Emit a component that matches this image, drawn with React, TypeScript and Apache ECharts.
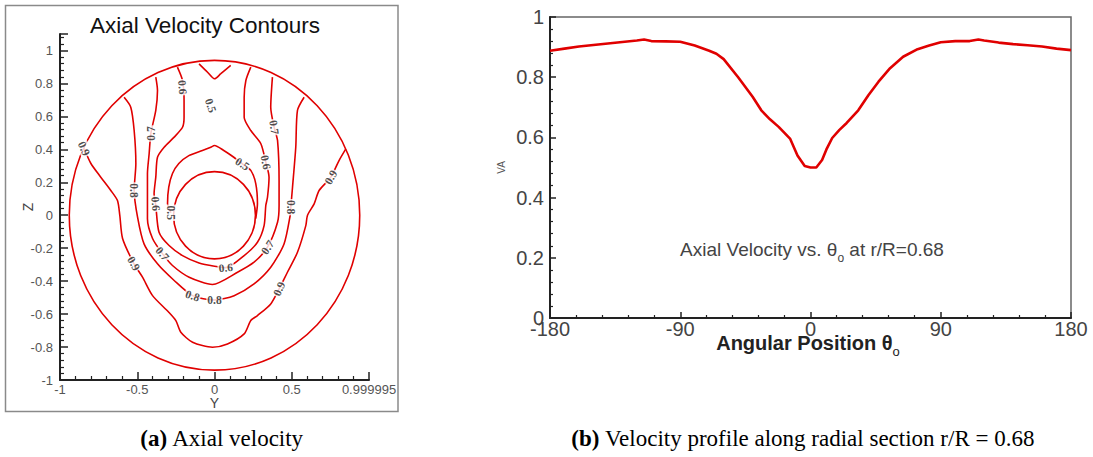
import React, { useEffect, useRef } from "react";
import * as echarts from "echarts";

// ---------- Right panel data: axial velocity vs angular position ----------
const thetaDeg = [-180, -170, -160, -150, -140, -130, -120, -115, -110, -100, -90, -80, -70, -65, -60, -50, -40, -34, -28, -22, -14, -9, -4, 0, 4, 8, 11, 15, 20, 25, 33, 40, 47, 55, 64, 74, 82, 90, 100, 110, 116, 120, 130, 140, 150, 160, 170, 180];
const axialVel = [0.888, 0.895, 0.902, 0.907, 0.912, 0.917, 0.922, 0.925, 0.92, 0.919, 0.918, 0.905, 0.888, 0.878, 0.86, 0.8, 0.735, 0.69, 0.66, 0.635, 0.595, 0.54, 0.505, 0.5, 0.5, 0.525, 0.56, 0.598, 0.625, 0.648, 0.69, 0.74, 0.785, 0.83, 0.868, 0.893, 0.905, 0.916, 0.92, 0.92, 0.925, 0.922, 0.915, 0.91, 0.906, 0.902, 0.895, 0.89];

// ---------- Left panel data: contour lines [Y, Z] ----------
const contour09 = [[-0.844, 0.405], [-0.8, 0.314], [-0.736, 0.231], [-0.671, 0.15], [-0.628, 0.089], [-0.613, 0], [-0.595, -0.141], [-0.522, -0.293], [-0.466, -0.376], [-0.401, -0.488], [-0.296, -0.589], [-0.25, -0.64], [-0.218, -0.71], [-0.142, -0.771], [-0.013, -0.801], [0.084, -0.781], [0.192, -0.72], [0.235, -0.639], [0.278, -0.609], [0.364, -0.538], [0.418, -0.447], [0.472, -0.346], [0.537, -0.225], [0.591, -0.063], [0.602, 0], [0.645, 0.069], [0.677, 0.15], [0.753, 0.231], [0.806, 0.332], [0.85, 0.403]];
const contour08 = [[-0.585, 0.716], [-0.542, 0.656], [-0.52, 0.514], [-0.509, 0.314], [-0.52, 0.15], [-0.498, -0.012], [-0.456, -0.174], [-0.369, -0.295], [-0.261, -0.396], [-0.142, -0.488], [0, -0.514], [0.127, -0.488], [0.256, -0.417], [0.364, -0.316], [0.45, -0.174], [0.49, 0.0], [0.494, 0.049], [0.505, 0.17], [0.526, 0.413], [0.537, 0.636], [0.58, 0.716]];
const contour07 = [[-0.38, 0.838], [-0.369, 0.757], [-0.38, 0.636], [-0.412, 0.496], [-0.423, 0.373], [-0.434, 0.253], [-0.434, 0.132], [-0.434, -0.022], [-0.401, -0.141], [-0.337, -0.233], [-0.272, -0.305], [-0.164, -0.376], [-0.013, -0.42], [0.149, -0.346], [0.256, -0.285], [0.343, -0.194], [0.408, -0.043], [0.418, 0.059], [0.418, 0.211], [0.408, 0.454], [0.386, 0.534], [0.364, 0.656], [0.375, 0.838]];
const contour06 = [[-0.24, 0.899], [-0.207, 0.818], [-0.197, 0.696], [-0.197, 0.595], [-0.207, 0.534], [-0.261, 0.474], [-0.326, 0.413], [-0.369, 0.352], [-0.38, 0.231], [-0.391, 0.13], [-0.38, 0.059], [-0.359, -0.103], [-0.294, -0.184], [-0.207, -0.245], [-0.1, -0.29], [0, -0.31], [0.073, -0.318], [0.192, -0.245], [0.278, -0.164], [0.321, -0.063], [0.332, 0.059], [0.343, 0.109], [0.353, 0.231], [0.332, 0.322], [0.3, 0.434], [0.235, 0.514], [0.192, 0.595], [0.192, 0.716], [0.203, 0.818], [0.235, 0.899]];
const contour05 = [[-0.282, 0.015], [-0.304, 0.071], [-0.296, 0.17], [-0.272, 0.253], [-0.231, 0.314], [-0.166, 0.362], [-0.078, 0.393], [-0.024, 0.413], [0, 0.423], [0.06, 0.393], [0.125, 0.352], [0.181, 0.312], [0.235, 0.272], [0.267, 0.192], [0.278, 0.071], [0.267, -0.02]];
const contour05top = [[-0.1, 0.919], [-0.045, 0.868], [0, 0.828], [0.041, 0.859], [0.105, 0.909]];
// walls: [centre Y, centre Z, radius]
const walls = [[0, 0, 0.94], [0, 0, 0.265]];

const labelText = ["0.9", "0.8", "0.7", "0.6", "0.5", "0.5", "0.7", "0.6", "0.9", "0.8", "0.6", "0.5", "0.9", "0.7", "0.8", "0.8", "0.6", "0.7", "0.9"];
const labelPos = [[-0.844, 0.405], [-0.52, 0.15], [-0.412, 0.496], [-0.207, 0.777], [-0.024, 0.666], [0.181, 0.312], [0.386, 0.534], [0.332, 0.322], [0.753, 0.231], [0.494, 0.049], [-0.38, 0.07], [-0.282, 0.015], [-0.522, -0.293], [-0.337, -0.233], [-0.142, -0.488], [0, -0.514], [0.073, -0.318], [0.343, -0.194], [0.418, -0.447]];
const labelAngle = [-65, -90, 90, -85, -72, -32, -82, -78, 60, -90, -85, -90, -60, -50, -18, 0, 5, 55, 65];

const RED = "#e00000";
const SANS = "'Liberation Sans', Arial, sans-serif";
const SERIF = "'Liberation Serif', 'Times New Roman', serif";

export default function App() {
  const ref = useRef<HTMLDivElement>(null);
  useEffect(() => {
    if (!ref.current) return;
    const chart = echarts.init(ref.current, undefined, { renderer: "svg" });

    const contourSeries = [contour09, contour08, contour07, contour06, contour05, contour05top].map((d) => ({
      type: "line",
      xAxisIndex: 0,
      yAxisIndex: 0,
      data: d,
      showSymbol: false,
      smooth: 0.25,
      lineStyle: { color: RED, width: 1.6 },
      z: 2,
    }));

    const axisCommon = {
      axisLine: { onZero: false, lineStyle: { color: "#222", width: 2 } },
      splitLine: { show: false },
    };

    const option: any = {
      animation: false,
      backgroundColor: "#ffffff",
      grid: [
        { left: 60, top: 34, width: 309, height: 346 },
        { left: 550, top: 17, width: 521, height: 301, show: true, borderColor: "#666", borderWidth: 1.5, backgroundColor: "transparent" },
      ],
      xAxis: [
        {
          type: "value", gridIndex: 0, min: -1, max: 1, interval: 0.5, ...axisCommon,
          axisTick: { inside: true, length: 8, lineStyle: { color: "#222", width: 1.5 } },
          minorTick: { show: true, splitNumber: 5, length: 4, lineStyle: { color: "#222", width: 1.2 } },
          axisLabel: { color: "#555", fontSize: 13, fontFamily: SANS, margin: 3, formatter: (v: number) => (v === 1 ? "0.999995" : String(v)) },
          name: "Y", nameLocation: "middle", nameGap: 16, nameMoveOverlap: false,
          nameTextStyle: { color: "#444", fontSize: 14, fontFamily: SANS },
        },
        {
          type: "value", gridIndex: 1, min: -180, max: 180, interval: 90, ...axisCommon,
          axisTick: { inside: true, length: 6, lineStyle: { color: "#222", width: 1.5 } },
          minorTick: { show: true, splitNumber: 5, length: 3, lineStyle: { color: "#222", width: 1.2 } },
          axisLabel: { color: "#444", fontSize: 20, fontFamily: SANS, margin: 1 },
        },
      ],
      yAxis: [
        {
          type: "value", gridIndex: 0, min: -1, max: 1.1, interval: 0.2, ...axisCommon,
          axisTick: { inside: true, length: 8, lineStyle: { color: "#222", width: 1.5 } },
          minorTick: { show: true, splitNumber: 5, length: 4, lineStyle: { color: "#222", width: 1.2 } },
          axisLabel: { color: "#555", fontSize: 13, fontFamily: SANS, margin: 7, showMaxLabel: false, formatter: (v: number) => (v > 1.05 ? "" : String(Math.round(v * 10) / 10)) },
          name: "Z", nameLocation: "middle", nameGap: 25, nameRotate: 90, nameMoveOverlap: false,
          nameTextStyle: { color: "#444", fontSize: 14, fontFamily: SANS },
        },
        {
          type: "value", gridIndex: 1, min: 0, max: 1, interval: 0.2, ...axisCommon,
          axisTick: { inside: true, length: 6, lineStyle: { color: "#222", width: 1.5 } },
          minorTick: { show: true, splitNumber: 5, length: 3, lineStyle: { color: "#222", width: 1.2 } },
          axisLabel: { color: "#444", fontSize: 20, fontFamily: SANS, margin: 6 },
          name: "VA", nameLocation: "middle", nameGap: 44, nameRotate: 90,
          nameTextStyle: { color: "#555", fontSize: 10, fontFamily: SANS },
        },
      ],
      series: [
        {
          type: "custom",
          xAxisIndex: 0,
          yAxisIndex: 0,
          data: walls,
          clip: false,
          z: 2,
          renderItem: (_p: any, api: any) => {
            const c = api.coord([api.value(0), api.value(1)]);
            const s = api.size([api.value(2), api.value(2)]);
            return {
              type: "ellipse",
              shape: { cx: c[0], cy: c[1], rx: s[0], ry: s[1] },
              style: { fill: "none", stroke: RED, lineWidth: 1.6 },
            };
          },
        },
        ...contourSeries,
        {
          type: "scatter",
          xAxisIndex: 0,
          yAxisIndex: 0,
          z: 5,
          symbolSize: 1,
          itemStyle: { color: "rgba(0,0,0,0)" },
          data: labelPos.map((p, i) => ({ value: p, name: labelText[i], label: { rotate: labelAngle[i] } })),
          label: {
            show: true, position: "inside", formatter: (p: any) => p.name,
            fontFamily: SERIF, fontWeight: "bold", fontSize: 11.5, color: "#222",
            backgroundColor: "#ffffff", padding: [0, 1],
          },
        },
        {
          type: "line",
          xAxisIndex: 1,
          yAxisIndex: 1,
          data: thetaDeg.map((t, i) => [t, axialVel[i]]),
          showSymbol: false,
          lineStyle: { color: RED, width: 2.6 },
        },
      ],
      graphic: [
        { type: "rect", shape: { x: 5.5, y: 5.5, width: 392.5, height: 406 }, style: { fill: "none", stroke: "#8a8a8a", lineWidth: 1.5 }, z: 0 },
        { type: "text", x: 205, y: 25, style: { text: "Axial Velocity Contours", fontSize: 22.5, fontFamily: SANS, fill: "#111", align: "center", verticalAlign: "middle" } },
        {
          type: "text", x: 812, y: 249,
          style: {
            text: "{m|Axial Velocity vs. θ}{s|o}{m| at r/R=0.68}",
            align: "center", verticalAlign: "middle", fill: "#444",
            rich: {
              m: { fontSize: 19, fontFamily: SANS, fill: "#444", lineHeight: 26, verticalAlign: "middle" },
              s: { fontSize: 12, fontFamily: SANS, fill: "#444", lineHeight: 30, verticalAlign: "bottom" },
            },
          },
        },
        {
          type: "text", x: 808, y: 343, z: 10,
          style: {
            text: "{m|Angular Position θ}{s|o}",
            align: "center", verticalAlign: "middle", fill: "#222",
            rich: {
              m: { fontSize: 20, fontWeight: "bold", fontFamily: SANS, fill: "#222", lineHeight: 26, verticalAlign: "middle" },
              s: { fontSize: 13, fontFamily: SANS, fill: "#222", lineHeight: 30, verticalAlign: "bottom" },
            },
          },
        },
        {
          type: "text", x: 222, y: 438,
          style: {
            text: "{b|(a)}{n| Axial velocity}", align: "center", verticalAlign: "middle",
            rich: {
              b: { fontSize: 23, fontWeight: "bold", fontFamily: SERIF, fill: "#000" },
              n: { fontSize: 23, fontFamily: SERIF, fill: "#000" },
            },
          },
        },
        {
          type: "text", x: 803, y: 438,
          style: {
            text: "{b|(b)}{n| Velocity profile along radial section r/R = 0.68}", align: "center", verticalAlign: "middle",
            rich: {
              b: { fontSize: 23, fontWeight: "bold", fontFamily: SERIF, fill: "#000" },
              n: { fontSize: 23, fontFamily: SERIF, fill: "#000" },
            },
          },
        },
      ],
    };
    chart.setOption(option);
    return () => chart.dispose();
  }, []);
  return <div ref={ref} style={{ position: "absolute", left: 0, top: 0, width: 1093, height: 457 }} />;
}
